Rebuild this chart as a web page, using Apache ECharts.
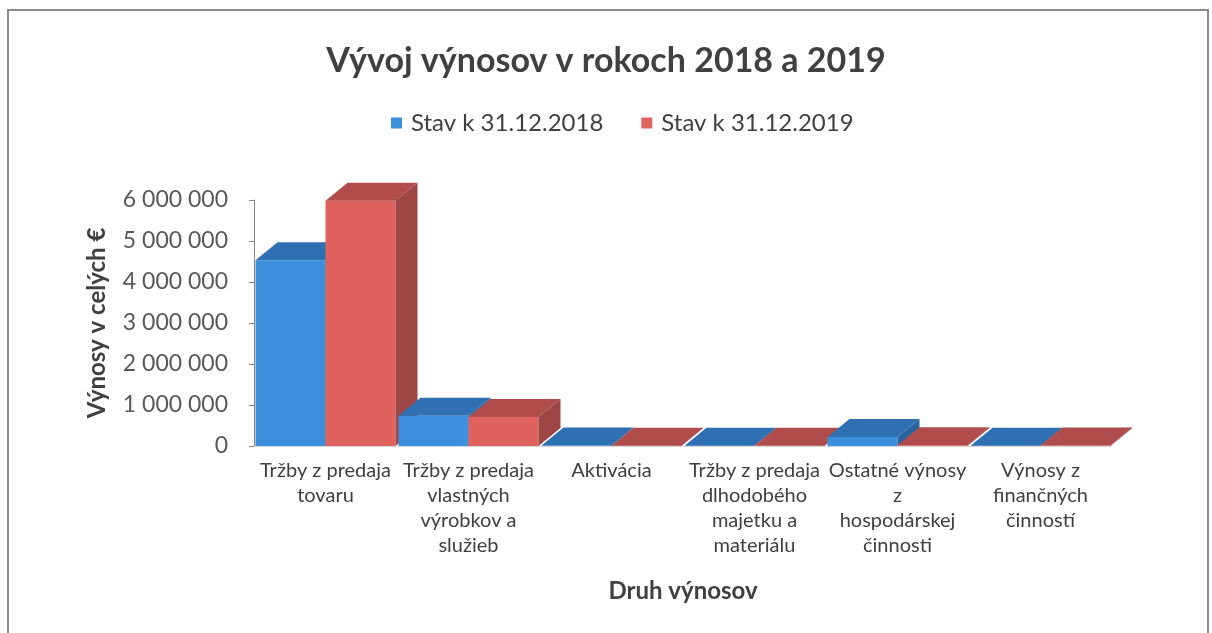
<!DOCTYPE html>
<html>
<head>
<meta charset="utf-8">
<script src="https://cdn.jsdelivr.net/npm/echarts@6/dist/echarts.min.js"></script>
<style>
  html, body { margin: 0; padding: 0; background: #fff; }
  #chart { width: 1212px; height: 633px; }
</style>
</head>
<body>
<div id="chart"></div>
<script>
// kategórie a hodnoty (odčítané z grafu)
var categories = [
  'Tržby z predaja\ntovaru',
  'Tržby z predaja\nvlastných\nvýrobkov a\nslužieb',
  'Aktivácia',
  'Tržby z predaja\ndlhodobého\nmajetku a\nmateriálu',
  'Ostatné výnosy\nz\nhospodárskej\nčinnosti',
  'Výnosy z\nfinančných\nčinností'
];
var seriesNames = ['Stav k 31.12.2018', 'Stav k 31.12.2019'];
var values2018 = [4530000, 740000, 10000, 5000, 220000, 5000];
var values2019 = [5980000, 710000, 5000, 5000, 20000, 10000];

// farby: predná stena, vrch, bok
var colors = [
  { front: '#3b8fdc', top: '#2f70b2', side: '#2a64a0' },
  { front: '#e0625f', top: '#b04d4c', side: '#9e4545' }
];
var DX = 22, DY = 18; // hĺbka 3D stĺpca

function renderBar(params, api) {
  var s = params.seriesIndex;
  var cat = api.value(0);
  var val = api.value(1);
  var w = api.size([1, 0])[0];
  var base = api.coord([cat, 0]);
  var top = api.coord([cat, val]);
  var pad = 1.5;
  var bw = (w - pad * 2) / 2;
  var x0 = base[0] - w / 2 + pad + s * bw;
  var x1 = x0 + bw;
  var yT = top[1], yB = base[1];
  var c = colors[s];
  var z = (cat * 2 + s) * 3;
  return {
    type: 'group',
    children: [
      { type: 'rect', z2: z, shape: { x: x0, y: yT, width: bw, height: yB - yT }, style: { fill: c.front } },
      { type: 'polygon', z2: z + 1, shape: { points: [[x0, yT], [x1, yT], [x1 + DX, yT - DY], [x0 + DX, yT - DY]] }, style: { fill: c.top } },
      { type: 'polygon', z2: z + 2, shape: { points: [[x1, yT], [x1 + DX, yT - DY], [x1 + DX, yB - DY], [x1, yB]] }, style: { fill: c.side } }
    ]
  };
}

function fmt(v) {
  return String(v).replace(/\B(?=(\d{3})+(?!\d))/g, ' ');
}

var chart = echarts.init(document.getElementById('chart'));
var option = {
  backgroundColor: '#fff',
  animation: false,
  graphic: [{
    type: 'rect',
    shape: { x: 8, y: 10, width: 1200, height: 640 },
    style: { fill: 'none', stroke: '#8c8c8c', lineWidth: 2 }
  }],
  title: {
    text: 'Vývoj výnosov v rokoch 2018 a 2019',
    left: 'center',
    top: 39,
    textStyle: { fontFamily: 'Lato', fontSize: 34, fontWeight: 'bold', color: '#404040' }
  },
  legend: {
    top: 106,
    left: 386,
    icon: 'rect',
    itemWidth: 11,
    itemHeight: 11,
    itemGap: 38,
    data: seriesNames,
    textStyle: { fontFamily: 'Lato', fontSize: 24, color: '#404040', padding: [0, 0, 0, 4] }
  },
  grid: { left: 254, right: 100, top: 200, bottom: 187 },
  xAxis: {
    type: 'category',
    data: categories,
    name: 'Druh výnosov',
    nameLocation: 'middle',
    nameGap: 133,
    nameTextStyle: { fontFamily: 'Lato', fontSize: 24, fontWeight: 'bold', color: '#404040' },
    axisLine: { show: true, lineStyle: { color: '#d9d9d9', width: 1 } },
    axisTick: { show: false },
    axisLabel: {
      interval: 0,
      margin: 12,
      fontFamily: 'Lato',
      fontSize: 20,
      lineHeight: 25,
      color: '#404040'
    },
    splitLine: { show: false }
  },
  yAxis: {
    type: 'value',
    min: 0,
    max: 6000000,
    interval: 1000000,
    name: 'Výnosy v celých €',
    nameLocation: 'middle',
    nameGap: 145,
    nameTextStyle: { fontFamily: 'Lato', fontSize: 24, fontWeight: 'bold', color: '#404040' },
    axisLine: { show: true, lineStyle: { color: '#868686' } },
    axisTick: { show: true, length: 5, lineStyle: { color: '#868686' } },
    axisLabel: {
      margin: 26,
      fontFamily: 'Lato',
      fontSize: 23,
      color: '#595959',
      formatter: fmt
    },
    splitLine: { show: false }
  },
  series: [
    {
      name: seriesNames[0],
      type: 'custom',
      itemStyle: { color: colors[0].front },
      renderItem: renderBar,
      encode: { x: 0, y: 1 },
      data: values2018.map(function (v, i) { return [i, v]; })
    },
    {
      name: seriesNames[1],
      type: 'custom',
      itemStyle: { color: colors[1].front },
      renderItem: renderBar,
      encode: { x: 0, y: 1 },
      data: values2019.map(function (v, i) { return [i, v]; })
    }
  ]
};
chart.setOption(option);
</script>
</body>
</html>
